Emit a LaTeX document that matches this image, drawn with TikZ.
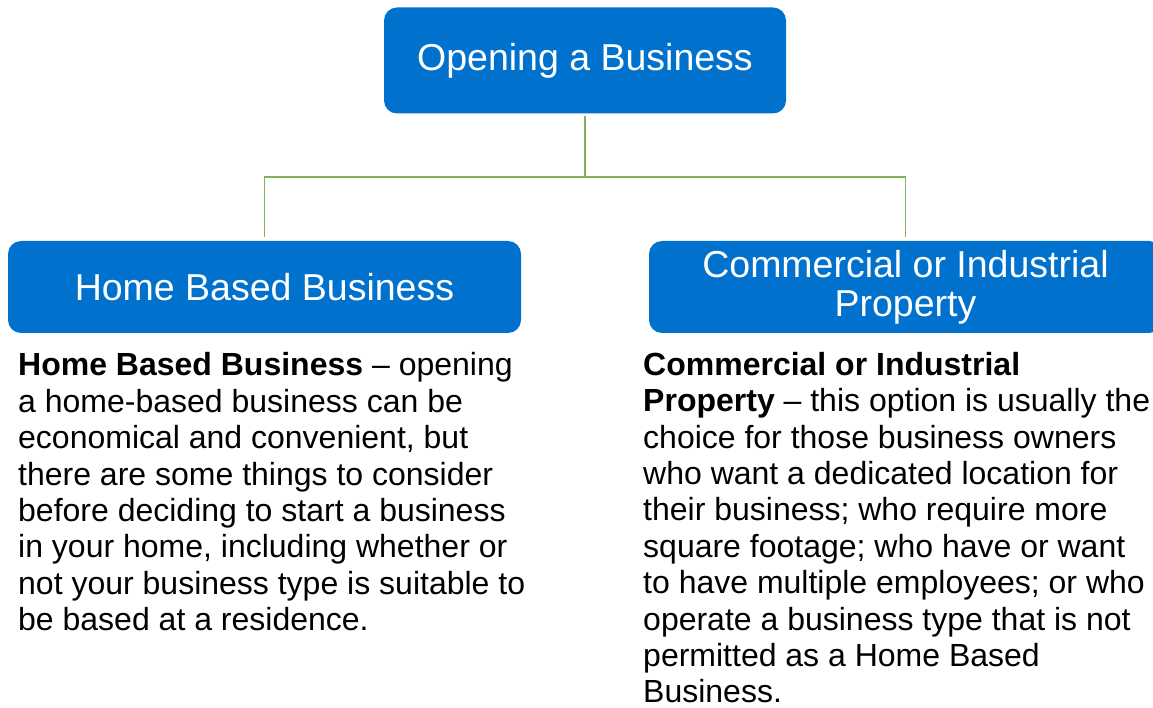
\documentclass[tikz,border=0pt]{standalone}
\usepackage{fontspec}
\setmainfont{Liberation Sans}
\definecolor{boxblue}{RGB}{0,114,206}
\definecolor{conngreen}{RGB}{128,180,92}
\begin{document}
\begin{tikzpicture}[x=1pt,y=-1pt,
  hdr/.style={fill=boxblue, draw=none, rounded corners=13pt, text=white,
    inner sep=0pt, align=center, font=\fontsize{37.5}{39}\selectfont},
  conn/.style={draw=conngreen, line width=1.6pt},
  body/.style={anchor=north west, inner sep=0pt, align=left, text=black,
    font=\fontsize{32}{36.4}\selectfont}]
\useasboundingbox (0,0) rectangle (1153,708);
\clip (0,0) rectangle (1153,708);
\node[hdr, minimum width=402pt, minimum height=106pt] (top) at (585,60.5) {Opening a Business};
\node[hdr, minimum width=513pt, minimum height=92pt] (left) at (264.5,287) {Home Based Business};
\node[hdr, minimum width=513pt, minimum height=92pt] (right) at (905.5,287) {Commercial or Industrial\\Property};
\coordinate (jn) at (585,177);
\draw[conn, shorten <=2pt] (top.south) -- (jn);
\draw[conn, shorten >=4pt] (jn) -| (left.north);
\draw[conn, shorten >=4pt] (jn) -| (right.north);
\node[body] (ltext) at (18,352.5) {\textbf{Home Based Business} -- opening\\
a home-based business can be\\
economical and convenient, but\\
there are some things to consider\\
before deciding to start a business\\
in your home, including whether or\\
not your business type is suitable to\\
be based at a residence.};
\node[body] (rtext) at (643,352) {\textbf{Commercial or Industrial}\\
\textbf{Property} -- this option is usually the\\
choice for those business owners\\
who want a dedicated location for\\
their business; who require more\\
square footage; who have or want\\
to have multiple employees; or who\\
operate a business type that is not\\
permitted as a Home Based\\
Business.};
\end{tikzpicture}
\end{document}
